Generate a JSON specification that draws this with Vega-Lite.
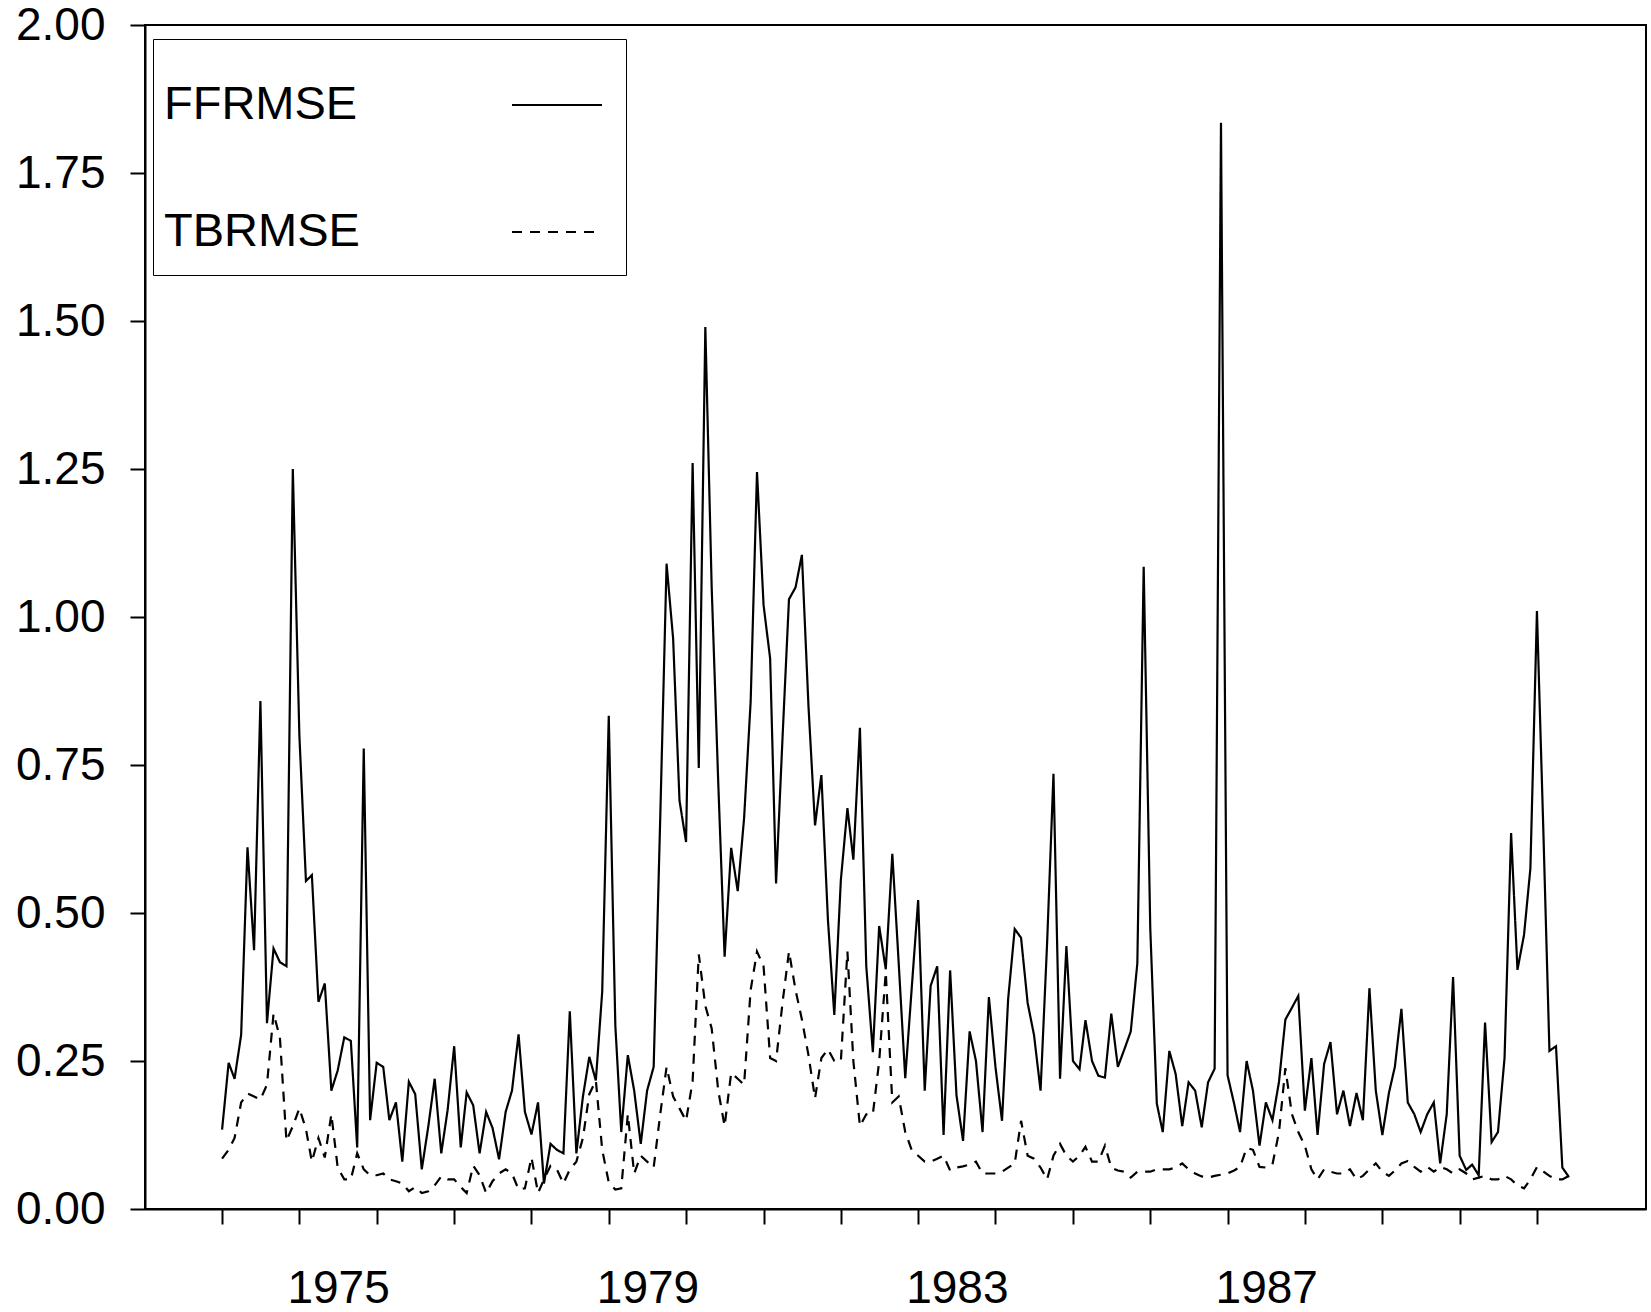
{
  "$schema": "https://vega.github.io/schema/vega-lite/v6.json",
  "width": 1501,
  "height": 1184,
  "autosize": {"type": "none"},
  "padding": {"left": 145, "top": 25, "right": 5, "bottom": 103},
  "background": "white",
  "config": {
    "font": "Liberation Sans",
    "view": {"stroke": "black", "strokeWidth": 2},
    "axis": {
      "grid": false,
      "domainColor": "black",
      "domainWidth": 2,
      "tickColor": "black",
      "tickWidth": 2,
      "tickSize": 15,
      "labelColor": "black",
      "labelFont": "Liberation Sans",
      "labelFontSize": 46,
      "labelOverlap": false,
      "labelFlush": false,
      "title": null
    }
  },
  "data": {
    "values": [
      {"date": "1974-01", "FFRMSE": 0.134, "TBRMSE": 0.085},
      {"date": "1974-02", "FFRMSE": 0.247, "TBRMSE": 0.10},
      {"date": "1974-03", "FFRMSE": 0.22, "TBRMSE": 0.12},
      {"date": "1974-04", "FFRMSE": 0.294, "TBRMSE": 0.18},
      {"date": "1974-05", "FFRMSE": 0.611, "TBRMSE": 0.195},
      {"date": "1974-06", "FFRMSE": 0.437, "TBRMSE": 0.19},
      {"date": "1974-07", "FFRMSE": 0.858, "TBRMSE": 0.185},
      {"date": "1974-08", "FFRMSE": 0.314, "TBRMSE": 0.21},
      {"date": "1974-09", "FFRMSE": 0.44, "TBRMSE": 0.33},
      {"date": "1974-10", "FFRMSE": 0.417, "TBRMSE": 0.29},
      {"date": "1974-11", "FFRMSE": 0.41, "TBRMSE": 0.115},
      {"date": "1974-12", "FFRMSE": 1.25, "TBRMSE": 0.14},
      {"date": "1975-01", "FFRMSE": 0.80, "TBRMSE": 0.17},
      {"date": "1975-02", "FFRMSE": 0.554, "TBRMSE": 0.135},
      {"date": "1975-03", "FFRMSE": 0.564, "TBRMSE": 0.08},
      {"date": "1975-04", "FFRMSE": 0.35, "TBRMSE": 0.12},
      {"date": "1975-05", "FFRMSE": 0.381, "TBRMSE": 0.087},
      {"date": "1975-06", "FFRMSE": 0.20, "TBRMSE": 0.16},
      {"date": "1975-07", "FFRMSE": 0.234, "TBRMSE": 0.07},
      {"date": "1975-08", "FFRMSE": 0.29, "TBRMSE": 0.05},
      {"date": "1975-09", "FFRMSE": 0.284, "TBRMSE": 0.05},
      {"date": "1975-10", "FFRMSE": 0.104, "TBRMSE": 0.094},
      {"date": "1975-11", "FFRMSE": 0.778, "TBRMSE": 0.067},
      {"date": "1975-12", "FFRMSE": 0.15, "TBRMSE": 0.057},
      {"date": "1976-01", "FFRMSE": 0.247, "TBRMSE": 0.057},
      {"date": "1976-02", "FFRMSE": 0.24, "TBRMSE": 0.06},
      {"date": "1976-03", "FFRMSE": 0.15, "TBRMSE": 0.05},
      {"date": "1976-04", "FFRMSE": 0.18, "TBRMSE": 0.047},
      {"date": "1976-05", "FFRMSE": 0.08, "TBRMSE": 0.043},
      {"date": "1976-06", "FFRMSE": 0.215, "TBRMSE": 0.03},
      {"date": "1976-07", "FFRMSE": 0.194, "TBRMSE": 0.037},
      {"date": "1976-08", "FFRMSE": 0.067, "TBRMSE": 0.027},
      {"date": "1976-09", "FFRMSE": 0.14, "TBRMSE": 0.03},
      {"date": "1976-10", "FFRMSE": 0.22, "TBRMSE": 0.04},
      {"date": "1976-11", "FFRMSE": 0.094, "TBRMSE": 0.055},
      {"date": "1976-12", "FFRMSE": 0.167, "TBRMSE": 0.05},
      {"date": "1977-01", "FFRMSE": 0.275, "TBRMSE": 0.05},
      {"date": "1977-02", "FFRMSE": 0.104, "TBRMSE": 0.037},
      {"date": "1977-03", "FFRMSE": 0.197, "TBRMSE": 0.027},
      {"date": "1977-04", "FFRMSE": 0.175, "TBRMSE": 0.073},
      {"date": "1977-05", "FFRMSE": 0.094, "TBRMSE": 0.057},
      {"date": "1977-06", "FFRMSE": 0.164, "TBRMSE": 0.027},
      {"date": "1977-07", "FFRMSE": 0.137, "TBRMSE": 0.047},
      {"date": "1977-08", "FFRMSE": 0.084, "TBRMSE": 0.06},
      {"date": "1977-09", "FFRMSE": 0.164, "TBRMSE": 0.067},
      {"date": "1977-10", "FFRMSE": 0.20, "TBRMSE": 0.06},
      {"date": "1977-11", "FFRMSE": 0.295, "TBRMSE": 0.033},
      {"date": "1977-12", "FFRMSE": 0.164, "TBRMSE": 0.035},
      {"date": "1978-01", "FFRMSE": 0.126, "TBRMSE": 0.087},
      {"date": "1978-02", "FFRMSE": 0.18, "TBRMSE": 0.027},
      {"date": "1978-03", "FFRMSE": 0.043, "TBRMSE": 0.05},
      {"date": "1978-04", "FFRMSE": 0.11, "TBRMSE": 0.073},
      {"date": "1978-05", "FFRMSE": 0.10, "TBRMSE": 0.067},
      {"date": "1978-06", "FFRMSE": 0.094, "TBRMSE": 0.043},
      {"date": "1978-07", "FFRMSE": 0.334, "TBRMSE": 0.067},
      {"date": "1978-08", "FFRMSE": 0.094, "TBRMSE": 0.08},
      {"date": "1978-09", "FFRMSE": 0.19, "TBRMSE": 0.12},
      {"date": "1978-10", "FFRMSE": 0.257, "TBRMSE": 0.194},
      {"date": "1978-11", "FFRMSE": 0.217, "TBRMSE": 0.217},
      {"date": "1978-12", "FFRMSE": 0.367, "TBRMSE": 0.10},
      {"date": "1979-01", "FFRMSE": 0.833, "TBRMSE": 0.045},
      {"date": "1979-02", "FFRMSE": 0.31, "TBRMSE": 0.033},
      {"date": "1979-03", "FFRMSE": 0.13, "TBRMSE": 0.035},
      {"date": "1979-04", "FFRMSE": 0.26, "TBRMSE": 0.16},
      {"date": "1979-05", "FFRMSE": 0.20, "TBRMSE": 0.06},
      {"date": "1979-06", "FFRMSE": 0.11, "TBRMSE": 0.09},
      {"date": "1979-07", "FFRMSE": 0.20, "TBRMSE": 0.08},
      {"date": "1979-08", "FFRMSE": 0.24, "TBRMSE": 0.07},
      {"date": "1979-09", "FFRMSE": 0.66, "TBRMSE": 0.16},
      {"date": "1979-10", "FFRMSE": 1.09, "TBRMSE": 0.24},
      {"date": "1979-11", "FFRMSE": 0.963, "TBRMSE": 0.19},
      {"date": "1979-12", "FFRMSE": 0.69, "TBRMSE": 0.17},
      {"date": "1980-01", "FFRMSE": 0.62, "TBRMSE": 0.149},
      {"date": "1980-02", "FFRMSE": 1.26, "TBRMSE": 0.216},
      {"date": "1980-03", "FFRMSE": 0.745, "TBRMSE": 0.43},
      {"date": "1980-04", "FFRMSE": 1.49, "TBRMSE": 0.343},
      {"date": "1980-05", "FFRMSE": 1.05, "TBRMSE": 0.305},
      {"date": "1980-06", "FFRMSE": 0.72, "TBRMSE": 0.20},
      {"date": "1980-07", "FFRMSE": 0.426, "TBRMSE": 0.14},
      {"date": "1980-08", "FFRMSE": 0.61, "TBRMSE": 0.23},
      {"date": "1980-09", "FFRMSE": 0.537, "TBRMSE": 0.22},
      {"date": "1980-10", "FFRMSE": 0.66, "TBRMSE": 0.21},
      {"date": "1980-11", "FFRMSE": 0.857, "TBRMSE": 0.37},
      {"date": "1980-12", "FFRMSE": 1.245, "TBRMSE": 0.435},
      {"date": "1981-01", "FFRMSE": 1.02, "TBRMSE": 0.41},
      {"date": "1981-02", "FFRMSE": 0.93, "TBRMSE": 0.255},
      {"date": "1981-03", "FFRMSE": 0.55, "TBRMSE": 0.25},
      {"date": "1981-04", "FFRMSE": 0.80, "TBRMSE": 0.35},
      {"date": "1981-05", "FFRMSE": 1.03, "TBRMSE": 0.435},
      {"date": "1981-06", "FFRMSE": 1.05, "TBRMSE": 0.37},
      {"date": "1981-07", "FFRMSE": 1.105, "TBRMSE": 0.32},
      {"date": "1981-08", "FFRMSE": 0.85, "TBRMSE": 0.26},
      {"date": "1981-09", "FFRMSE": 0.648, "TBRMSE": 0.187},
      {"date": "1981-10", "FFRMSE": 0.733, "TBRMSE": 0.255},
      {"date": "1981-11", "FFRMSE": 0.488, "TBRMSE": 0.27},
      {"date": "1981-12", "FFRMSE": 0.328, "TBRMSE": 0.25},
      {"date": "1982-01", "FFRMSE": 0.556, "TBRMSE": 0.25},
      {"date": "1982-02", "FFRMSE": 0.677, "TBRMSE": 0.435},
      {"date": "1982-03", "FFRMSE": 0.59, "TBRMSE": 0.25},
      {"date": "1982-04", "FFRMSE": 0.813, "TBRMSE": 0.14},
      {"date": "1982-05", "FFRMSE": 0.41, "TBRMSE": 0.16},
      {"date": "1982-06", "FFRMSE": 0.265, "TBRMSE": 0.16},
      {"date": "1982-07", "FFRMSE": 0.478, "TBRMSE": 0.25},
      {"date": "1982-08", "FFRMSE": 0.405, "TBRMSE": 0.40},
      {"date": "1982-09", "FFRMSE": 0.60, "TBRMSE": 0.18},
      {"date": "1982-10", "FFRMSE": 0.416, "TBRMSE": 0.19},
      {"date": "1982-11", "FFRMSE": 0.221, "TBRMSE": 0.13},
      {"date": "1982-12", "FFRMSE": 0.37, "TBRMSE": 0.10},
      {"date": "1983-01", "FFRMSE": 0.522, "TBRMSE": 0.09},
      {"date": "1983-02", "FFRMSE": 0.20, "TBRMSE": 0.08},
      {"date": "1983-03", "FFRMSE": 0.377, "TBRMSE": 0.08},
      {"date": "1983-04", "FFRMSE": 0.41, "TBRMSE": 0.085},
      {"date": "1983-05", "FFRMSE": 0.125, "TBRMSE": 0.09},
      {"date": "1983-06", "FFRMSE": 0.403, "TBRMSE": 0.065},
      {"date": "1983-07", "FFRMSE": 0.192, "TBRMSE": 0.07},
      {"date": "1983-08", "FFRMSE": 0.115, "TBRMSE": 0.072},
      {"date": "1983-09", "FFRMSE": 0.30, "TBRMSE": 0.075},
      {"date": "1983-10", "FFRMSE": 0.25, "TBRMSE": 0.08},
      {"date": "1983-11", "FFRMSE": 0.13, "TBRMSE": 0.06},
      {"date": "1983-12", "FFRMSE": 0.358, "TBRMSE": 0.06},
      {"date": "1984-01", "FFRMSE": 0.24, "TBRMSE": 0.06},
      {"date": "1984-02", "FFRMSE": 0.149, "TBRMSE": 0.063},
      {"date": "1984-03", "FFRMSE": 0.355, "TBRMSE": 0.07},
      {"date": "1984-04", "FFRMSE": 0.473, "TBRMSE": 0.077},
      {"date": "1984-05", "FFRMSE": 0.458, "TBRMSE": 0.149},
      {"date": "1984-06", "FFRMSE": 0.348, "TBRMSE": 0.09},
      {"date": "1984-07", "FFRMSE": 0.294, "TBRMSE": 0.085},
      {"date": "1984-08", "FFRMSE": 0.20, "TBRMSE": 0.07},
      {"date": "1984-09", "FFRMSE": 0.45, "TBRMSE": 0.05},
      {"date": "1984-10", "FFRMSE": 0.735, "TBRMSE": 0.09},
      {"date": "1984-11", "FFRMSE": 0.22, "TBRMSE": 0.11},
      {"date": "1984-12", "FFRMSE": 0.444, "TBRMSE": 0.09},
      {"date": "1985-01", "FFRMSE": 0.25, "TBRMSE": 0.08},
      {"date": "1985-02", "FFRMSE": 0.236, "TBRMSE": 0.09},
      {"date": "1985-03", "FFRMSE": 0.319, "TBRMSE": 0.105},
      {"date": "1985-04", "FFRMSE": 0.25, "TBRMSE": 0.08},
      {"date": "1985-05", "FFRMSE": 0.225, "TBRMSE": 0.08},
      {"date": "1985-06", "FFRMSE": 0.222, "TBRMSE": 0.107},
      {"date": "1985-07", "FFRMSE": 0.33, "TBRMSE": 0.07},
      {"date": "1985-08", "FFRMSE": 0.24, "TBRMSE": 0.065},
      {"date": "1985-09", "FFRMSE": 0.27, "TBRMSE": 0.063},
      {"date": "1985-10", "FFRMSE": 0.30, "TBRMSE": 0.053},
      {"date": "1985-11", "FFRMSE": 0.415, "TBRMSE": 0.063},
      {"date": "1985-12", "FFRMSE": 1.085, "TBRMSE": 0.063},
      {"date": "1986-01", "FFRMSE": 0.475, "TBRMSE": 0.063},
      {"date": "1986-02", "FFRMSE": 0.178, "TBRMSE": 0.067},
      {"date": "1986-03", "FFRMSE": 0.13, "TBRMSE": 0.067},
      {"date": "1986-04", "FFRMSE": 0.267, "TBRMSE": 0.067},
      {"date": "1986-05", "FFRMSE": 0.228, "TBRMSE": 0.07},
      {"date": "1986-06", "FFRMSE": 0.14, "TBRMSE": 0.077},
      {"date": "1986-07", "FFRMSE": 0.214, "TBRMSE": 0.067},
      {"date": "1986-08", "FFRMSE": 0.20, "TBRMSE": 0.06},
      {"date": "1986-09", "FFRMSE": 0.138, "TBRMSE": 0.055},
      {"date": "1986-10", "FFRMSE": 0.214, "TBRMSE": 0.053},
      {"date": "1986-11", "FFRMSE": 0.237, "TBRMSE": 0.056},
      {"date": "1986-12", "FFRMSE": 1.835, "TBRMSE": 0.058},
      {"date": "1987-01", "FFRMSE": 0.226, "TBRMSE": 0.06},
      {"date": "1987-02", "FFRMSE": 0.178, "TBRMSE": 0.065},
      {"date": "1987-03", "FFRMSE": 0.13, "TBRMSE": 0.071},
      {"date": "1987-04", "FFRMSE": 0.25, "TBRMSE": 0.103},
      {"date": "1987-05", "FFRMSE": 0.20, "TBRMSE": 0.10},
      {"date": "1987-06", "FFRMSE": 0.107, "TBRMSE": 0.071},
      {"date": "1987-07", "FFRMSE": 0.18, "TBRMSE": 0.07},
      {"date": "1987-08", "FFRMSE": 0.15, "TBRMSE": 0.075},
      {"date": "1987-09", "FFRMSE": 0.215, "TBRMSE": 0.13},
      {"date": "1987-10", "FFRMSE": 0.32, "TBRMSE": 0.238},
      {"date": "1987-11", "FFRMSE": 0.34, "TBRMSE": 0.16},
      {"date": "1987-12", "FFRMSE": 0.36, "TBRMSE": 0.13},
      {"date": "1988-01", "FFRMSE": 0.166, "TBRMSE": 0.107},
      {"date": "1988-02", "FFRMSE": 0.255, "TBRMSE": 0.067},
      {"date": "1988-03", "FFRMSE": 0.125, "TBRMSE": 0.05},
      {"date": "1988-04", "FFRMSE": 0.245, "TBRMSE": 0.067},
      {"date": "1988-05", "FFRMSE": 0.282, "TBRMSE": 0.063},
      {"date": "1988-06", "FFRMSE": 0.16, "TBRMSE": 0.06},
      {"date": "1988-07", "FFRMSE": 0.20, "TBRMSE": 0.06},
      {"date": "1988-08", "FFRMSE": 0.14, "TBRMSE": 0.067},
      {"date": "1988-09", "FFRMSE": 0.196, "TBRMSE": 0.05},
      {"date": "1988-10", "FFRMSE": 0.15, "TBRMSE": 0.056},
      {"date": "1988-11", "FFRMSE": 0.373, "TBRMSE": 0.067},
      {"date": "1988-12", "FFRMSE": 0.20, "TBRMSE": 0.077},
      {"date": "1989-01", "FFRMSE": 0.125, "TBRMSE": 0.063},
      {"date": "1989-02", "FFRMSE": 0.196, "TBRMSE": 0.056},
      {"date": "1989-03", "FFRMSE": 0.24, "TBRMSE": 0.065},
      {"date": "1989-04", "FFRMSE": 0.338, "TBRMSE": 0.077},
      {"date": "1989-05", "FFRMSE": 0.18, "TBRMSE": 0.081},
      {"date": "1989-06", "FFRMSE": 0.16, "TBRMSE": 0.071},
      {"date": "1989-07", "FFRMSE": 0.13, "TBRMSE": 0.063},
      {"date": "1989-08", "FFRMSE": 0.16, "TBRMSE": 0.071},
      {"date": "1989-09", "FFRMSE": 0.18, "TBRMSE": 0.063},
      {"date": "1989-10", "FFRMSE": 0.077, "TBRMSE": 0.071},
      {"date": "1989-11", "FFRMSE": 0.16, "TBRMSE": 0.067},
      {"date": "1989-12", "FFRMSE": 0.392, "TBRMSE": 0.06},
      {"date": "1990-01", "FFRMSE": 0.09, "TBRMSE": 0.067},
      {"date": "1990-02", "FFRMSE": 0.066, "TBRMSE": 0.06},
      {"date": "1990-03", "FFRMSE": 0.075, "TBRMSE": 0.05},
      {"date": "1990-04", "FFRMSE": 0.057, "TBRMSE": 0.053},
      {"date": "1990-05", "FFRMSE": 0.315, "TBRMSE": 0.056},
      {"date": "1990-06", "FFRMSE": 0.113, "TBRMSE": 0.05},
      {"date": "1990-07", "FFRMSE": 0.13, "TBRMSE": 0.05},
      {"date": "1990-08", "FFRMSE": 0.255, "TBRMSE": 0.056},
      {"date": "1990-09", "FFRMSE": 0.635, "TBRMSE": 0.05},
      {"date": "1990-10", "FFRMSE": 0.404, "TBRMSE": 0.04},
      {"date": "1990-11", "FFRMSE": 0.463, "TBRMSE": 0.035},
      {"date": "1990-12", "FFRMSE": 0.575, "TBRMSE": 0.05},
      {"date": "1991-01", "FFRMSE": 1.01, "TBRMSE": 0.071},
      {"date": "1991-02", "FFRMSE": 0.63, "TBRMSE": 0.063},
      {"date": "1991-03", "FFRMSE": 0.267, "TBRMSE": 0.056},
      {"date": "1991-04", "FFRMSE": 0.275, "TBRMSE": 0.05},
      {"date": "1991-05", "FFRMSE": 0.07, "TBRMSE": 0.05},
      {"date": "1991-06", "FFRMSE": 0.054, "TBRMSE": 0.056}
    ]
  },
  "transform": [{"fold": ["FFRMSE", "TBRMSE"], "as": ["series", "value"]}],
  "mark": {"type": "line", "color": "black", "strokeWidth": 2.2},
  "encoding": {
    "x": {
      "field": "date",
      "type": "temporal",
      "scale": {
        "type": "utc",
        "domain": [
          {"year": 1973, "month": 1, "date": 2, "utc": true},
          {"year": 1992, "month": 5, "date": 30, "utc": true}
        ]
      },
      "axis": {
        "values": [
          {"year": 1974, "utc": true}, {"year": 1975, "utc": true}, {"year": 1976, "utc": true},
          {"year": 1977, "utc": true}, {"year": 1978, "utc": true}, {"year": 1979, "utc": true},
          {"year": 1980, "utc": true}, {"year": 1981, "utc": true}, {"year": 1982, "utc": true},
          {"year": 1983, "utc": true}, {"year": 1984, "utc": true}, {"year": 1985, "utc": true},
          {"year": 1986, "utc": true}, {"year": 1987, "utc": true}, {"year": 1988, "utc": true},
          {"year": 1989, "utc": true}, {"year": 1990, "utc": true}, {"year": 1991, "utc": true}
        ],
        "labelExpr": "(utcyear(datum.value) % 4 == 3 && utcyear(datum.value) < 1990) ? ('' + utcyear(datum.value)) : ''",
        "labelOffset": 38.7,
        "labelPadding": 42
      }
    },
    "y": {
      "field": "value",
      "type": "quantitative",
      "scale": {"domain": [0, 2], "nice": false, "zero": true},
      "axis": {
        "values": [0, 0.25, 0.5, 0.75, 1, 1.25, 1.5, 1.75, 2],
        "format": ".2f",
        "labelPadding": 25
      }
    },
    "strokeDash": {
      "field": "series",
      "type": "nominal",
      "scale": {"domain": ["FFRMSE", "TBRMSE"], "range": [[1, 0], [10, 8]]},
      "legend": {
        "orient": "none",
        "legendX": 8,
        "legendY": 14,
        "direction": "vertical",
        "title": null,
        "padding": 20,
        "strokeColor": "black",
        "fillColor": "white",
        "labelFont": "Liberation Sans",
        "labelFontSize": 47,
        "labelColor": "black",
        "labelLimit": 400,
        "symbolType": "stroke",
        "symbolStrokeColor": "black",
        "symbolStrokeWidth": 2,
        "symbolSize": 8100,
        "symbolOffset": 338,
        "labelOffset": -439,
        "rowPadding": 58
      }
    }
  }
}
